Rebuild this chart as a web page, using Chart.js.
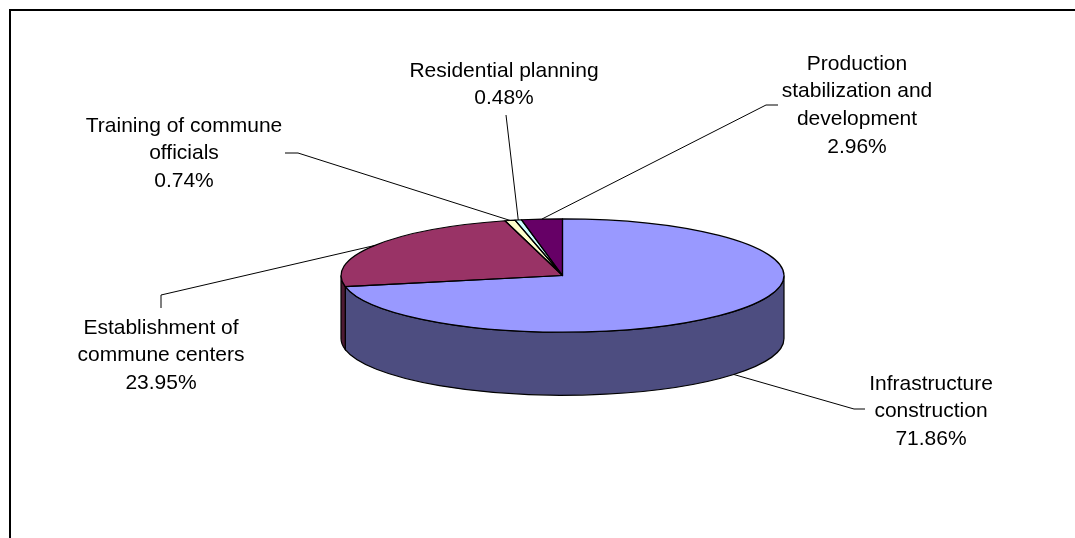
<!DOCTYPE html>
<html>
<head>
<meta charset="utf-8">
<script src="https://cdn.jsdelivr.net/npm/chart.js@4"></script>
<style>
  html, body { margin: 0; padding: 0; background: #fff; }
</style>
</head>
<body>
<canvas id="myChart" width="1075" height="538"></canvas>
<script>
// Data (clockwise from 12 o'clock)
const categories = [
  ["Infrastructure", "construction"],
  ["Establishment of", "commune centers"],
  ["Training of commune", "officials"],
  ["Residential planning"],
  ["Production", "stabilization and", "development"]
];
const shares = [71.86, 23.95, 0.74, 0.48, 2.96];

// Styles
const topColors = ["#9999FF", "#993366", "#FFFFCC", "#CCFFFF", "#660066"];
const sideColors = ["#4D4D80", "#4D1A33", "#80806A", "#6A8080", "#330033"];
const TILT = 0.256;   // ellipse height / width
const DEPTH = 63;     // thickness of the pie
const FONT = '21px "Liberation Sans", Arial, sans-serif';
const LINE_H = 27.6;

// where each label sits and how its leader line bends
const labelBoxes = [
  { x: 931, y: 384, elbow: [854, 409], end: [865, 409] },
  { x: 161, y: 328, elbow: [161, 295], end: [161, 308] },
  { x: 184, y: 126, elbow: [298, 153], end: [285, 153] },
  { x: 504, y: 71,  elbow: [506, 115], end: [506, 115] },
  { x: 857, y: 64,  elbow: [766, 105], end: [778, 105] }
];

// squashes the library's pie into a tilted 3D disc
const pie3d = {
  id: "pie3d",
  beforeDraw(chart) {
    const ctx = chart.ctx;
    ctx.save();
    ctx.strokeStyle = "#000";
    ctx.lineWidth = 2;
    ctx.beginPath();
    ctx.moveTo(10, chart.height);
    ctx.lineTo(10, 10);
    ctx.lineTo(chart.width, 10);
    ctx.stroke();
    ctx.restore();
  },
  beforeDatasetsDraw(chart) {
    const ctx = chart.ctx;
    const arcs = chart.getDatasetMeta(0).data;
    const cx = arcs[0].x, cy = arcs[0].y, R = arcs[0].outerRadius;
    const r = R * TILT;
    // front walls
    ctx.save();
    ctx.strokeStyle = "#000";
    ctx.lineWidth = 1.2;
    arcs.forEach(function (arc, i) {
      const a0 = Math.max(arc.startAngle, 0);
      const a1 = Math.min(arc.endAngle, Math.PI);
      if (a1 <= a0) return;
      ctx.beginPath();
      ctx.ellipse(cx, cy, R, r, 0, a0, a1);
      ctx.lineTo(cx + R * Math.cos(a1), cy + r * Math.sin(a1) + DEPTH);
      ctx.ellipse(cx, cy + DEPTH, R, r, 0, a1, a0, true);
      ctx.closePath();
      ctx.fillStyle = sideColors[i];
      ctx.fill();
      ctx.stroke();
    });
    ctx.restore();
    // top face: let Chart.js draw it in a squashed context
    ctx.save();
    ctx.translate(cx, cy);
    ctx.scale(1, TILT);
    ctx.translate(-cx, -cy);
  },
  afterDatasetsDraw(chart) {
    const ctx = chart.ctx;
    ctx.restore();
    const arcs = chart.getDatasetMeta(0).data;
    const cx = arcs[0].x, cy = arcs[0].y, R = arcs[0].outerRadius;
    const r = R * TILT;
    ctx.save();
    ctx.strokeStyle = "#000";
    ctx.lineWidth = 1.2;
    ctx.lineJoin = "round";
    arcs.forEach(function (arc) {
      ctx.beginPath();
      ctx.moveTo(cx, cy);
      ctx.ellipse(cx, cy, R, r, 0, arc.startAngle, arc.endAngle);
      ctx.closePath();
      ctx.stroke();
    });
    ctx.restore();
  },
  afterDraw(chart) {
    const ctx = chart.ctx;
    const arcs = chart.getDatasetMeta(0).data;
    const values = chart.data.datasets[0].data;
    const cx = arcs[0].x, cy = arcs[0].y, R = arcs[0].outerRadius;
    const r = R * TILT;
    ctx.save();
    arcs.forEach(function (arc, i) {
      const box = labelBoxes[i];
      const mid = (arc.startAngle + arc.endAngle) / 2;
      let px = cx + R * Math.cos(mid);
      let py = cy + r * Math.sin(mid);
      if (Math.sin(mid) > 0) py += DEPTH;
      // leader line
      ctx.strokeStyle = "#000";
      ctx.lineWidth = 1;
      ctx.beginPath();
      ctx.moveTo(px, py);
      ctx.lineTo(box.elbow[0], box.elbow[1]);
      ctx.lineTo(box.end[0], box.end[1]);
      ctx.stroke();
      // text
      const lines = chart.data.labels[i].concat([values[i].toFixed(2) + "%"]);
      ctx.fillStyle = "#000";
      ctx.font = FONT;
      ctx.textAlign = "center";
      ctx.textBaseline = "middle";
      lines.forEach(function (t, j) {
        ctx.fillText(t, box.x, box.y + j * LINE_H);
      });
    });
    ctx.restore();
  }
};

const myChart = document.getElementById("myChart").getContext("2d");
new Chart(myChart, {
  type: "pie",
  data: {
    labels: categories,
    datasets: [{
      data: shares,
      backgroundColor: topColors,
      borderWidth: 0,
      clip: false
    }]
  },
  options: {
    responsive: false,
    animation: false,
    events: [],
    layout: { padding: { left: 341, right: 291, top: 54, bottom: 41 } },
    plugins: {
      legend: { display: false },
      tooltip: { enabled: false }
    }
  },
  plugins: [pie3d]
});
</script>
</body>
</html>
